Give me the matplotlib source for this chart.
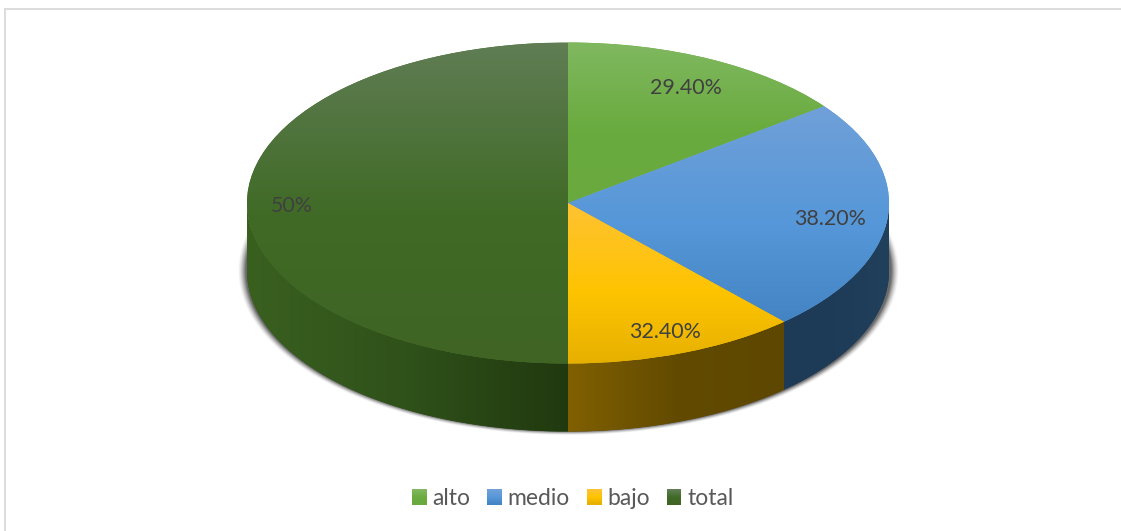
import numpy as np
import matplotlib
matplotlib.use("Agg")
import matplotlib.pyplot as plt
from matplotlib.colors import LinearSegmentedColormap as LSC
from matplotlib.patches import Polygon, Rectangle
from matplotlib.lines import Line2D
from matplotlib.legend_handler import HandlerBase

plt.rcParams['font.family'] = ['Lato', 'DejaVu Sans']

# ---- data -------------------------------------------------------------
categories = ["alto", "medio", "bajo", "total"]
slice_sizes = [29.4, 47.1, 23.5, 100.0]          # drawn geometry
slice_labels = ["29.40%", "38.20%", "32.40%", "50%"]   # printed labels
base_colors = ["#6aab3f", "#5597d8", "#fec400", "#3f6a25"]
top_colors = ["#80b860", "#70a0d9", "#ffc233", "#607d54"]
low_colors = ["#69a93e", "#4484c4", "#e6b000", "#3f6424"]
side_left = ["#4f8030", "#1d3a56", "#806000", "#3a6020"]
side_mid = ["#4a7a2c", "#1e3b57", "#624a00", "#2f511a"]
side_right = ["#456f28", "#21405c", "#5e4700", "#21390f"]
label_px = [(686, 88), (830, 219), (665.5, 332), (292, 206)]

# ---- layout (pixels) --------------------------------------------------
W, H = 1121, 531
CX, CY, RX, RY, DEPTH = 568.0, 203.0, 321.0, 160.5, 68.0
d = DEPTH / RY


def X(px):
    return (px - CX) / RX


def Y(py):
    return (CY - py) / RY


fig = plt.figure(figsize=(W / 100, H / 100), dpi=100, facecolor="white")
ax = fig.add_axes([0, 0, 1, 1])

top_cmaps = [LSC.from_list(f"t{i}", [(0, top_colors[i]), (0.55, base_colors[i]), (1, low_colors[i])])
             for i in range(4)]
side_cmaps = [LSC.from_list(f"s{i}", [side_left[i], side_mid[i], side_right[i]]) for i in range(4)]

# top face
wedges, _ = ax.pie(slice_sizes, colors=base_colors, startangle=90, counterclock=False,
                   radius=1.0, center=(0, 0), frame=False)
fractions = np.array(slice_sizes) / sum(slice_sizes)
edges = np.concatenate([[0], np.cumsum(fractions)]) * 360.0   # clockwise from the top

grad = np.linspace(0, 1, 256)
for i, w in enumerate(wedges):
    w.set_zorder(3)
    a = np.radians(np.linspace(edges[i], edges[i + 1], 200))
    xs = np.r_[0, np.sin(a)]
    ys = np.r_[0, np.cos(a)]
    im = ax.imshow(grad[:, None], cmap=top_cmaps[i], aspect="auto", origin="upper",
                   extent=(xs.min(), xs.max(), ys.min(), ys.max()), zorder=4,
                   interpolation="bilinear")
    im.set_clip_path(w)

# side wall
for i in range(4):
    lo, hi = max(edges[i], 90.0), min(edges[i + 1], 270.0)
    if lo >= hi:
        continue
    a = np.radians(np.linspace(lo, hi, 200))
    xs, ys = np.sin(a), np.cos(a)
    verts = np.r_[np.c_[xs, ys], np.c_[xs, ys - d][::-1]]
    poly = Polygon(verts, closed=True, fc=side_mid[i], ec="none", zorder=2)
    ax.add_patch(poly)
    im = ax.imshow(np.linspace(0, 1, 256)[None, :], cmap=side_cmaps[i], aspect="auto",
                   extent=(xs.min(), xs.max(), (ys - d).min(), ys.max()), zorder=2.5,
                   interpolation="bilinear")
    im.set_clip_path(poly)

# soft shadow behind the wall
px, py = np.meshgrid(np.arange(225, 915), np.arange(200, 450))
r = np.sqrt(((px - CX) / 328.0) ** 2 + ((py - (CY + DEPTH)) / 162.5) ** 2)
alpha = np.clip((1 - r) * 328.0 / 8.0 + 0.35, 0, 1) ** 1.5 * 0.75
rgba = np.zeros(px.shape + (4,))
rgba[..., :3] = 0.22
rgba[..., 3] = alpha
ax.imshow(rgba, extent=(X(225), X(915), Y(450), Y(200)), aspect="auto", zorder=1,
          interpolation="bilinear")

# data labels
for txt, (lx, ly) in zip(slice_labels, label_px):
    ax.text(X(lx), Y(ly), txt, ha="center", va="center", fontsize=15.4, color="#404040", zorder=6)

ax.set_aspect("auto")
ax.set_xlim(X(0), X(W))
ax.set_ylim(Y(H), Y(0))
ax.axis("off")


# legend with gradient swatches
class GradientSwatch(HandlerBase):
    def create_artists(self, legend, orig, xd, yd, width, height, fontsize, trans):
        cm = orig.cmap_ref
        n = 15
        arts = []
        for k in range(n):
            arts.append(Rectangle((xd * -1, -yd + height * (n - 1 - k) / n), width, height / n + 0.3,
                                  fc=cm(k / (n - 1)), ec="none", transform=trans))
        return arts


handles = []
for i in range(4):
    h = Rectangle((0, 0), 1, 1, fc=base_colors[i])
    h.cmap_ref = top_cmaps[i]
    handles.append(h)

leg = ax.legend(handles, categories, ncol=4, frameon=False, loc="center",
                bbox_to_anchor=(572.8 / W, 1 - 498.5 / H), bbox_transform=fig.transFigure,
                fontsize=16.5, labelcolor="#595959", handlelength=0.64, handleheight=0.64,
                handletextpad=0.26, columnspacing=0.73, borderpad=0,
                handler_map={Rectangle: GradientSwatch()})

# chart-area border
c = "#dcdcdc"
fig.add_artist(Line2D([4.5 / W, 4.5 / W], [0, 1 - 8.5 / H], color=c, lw=1.44, transform=fig.transFigure))
fig.add_artist(Line2D([4.5 / W, 1], [1 - 8.5 / H, 1 - 8.5 / H], color=c, lw=1.44, transform=fig.transFigure))

fig.savefig("out.png", dpi=100, facecolor="white")
